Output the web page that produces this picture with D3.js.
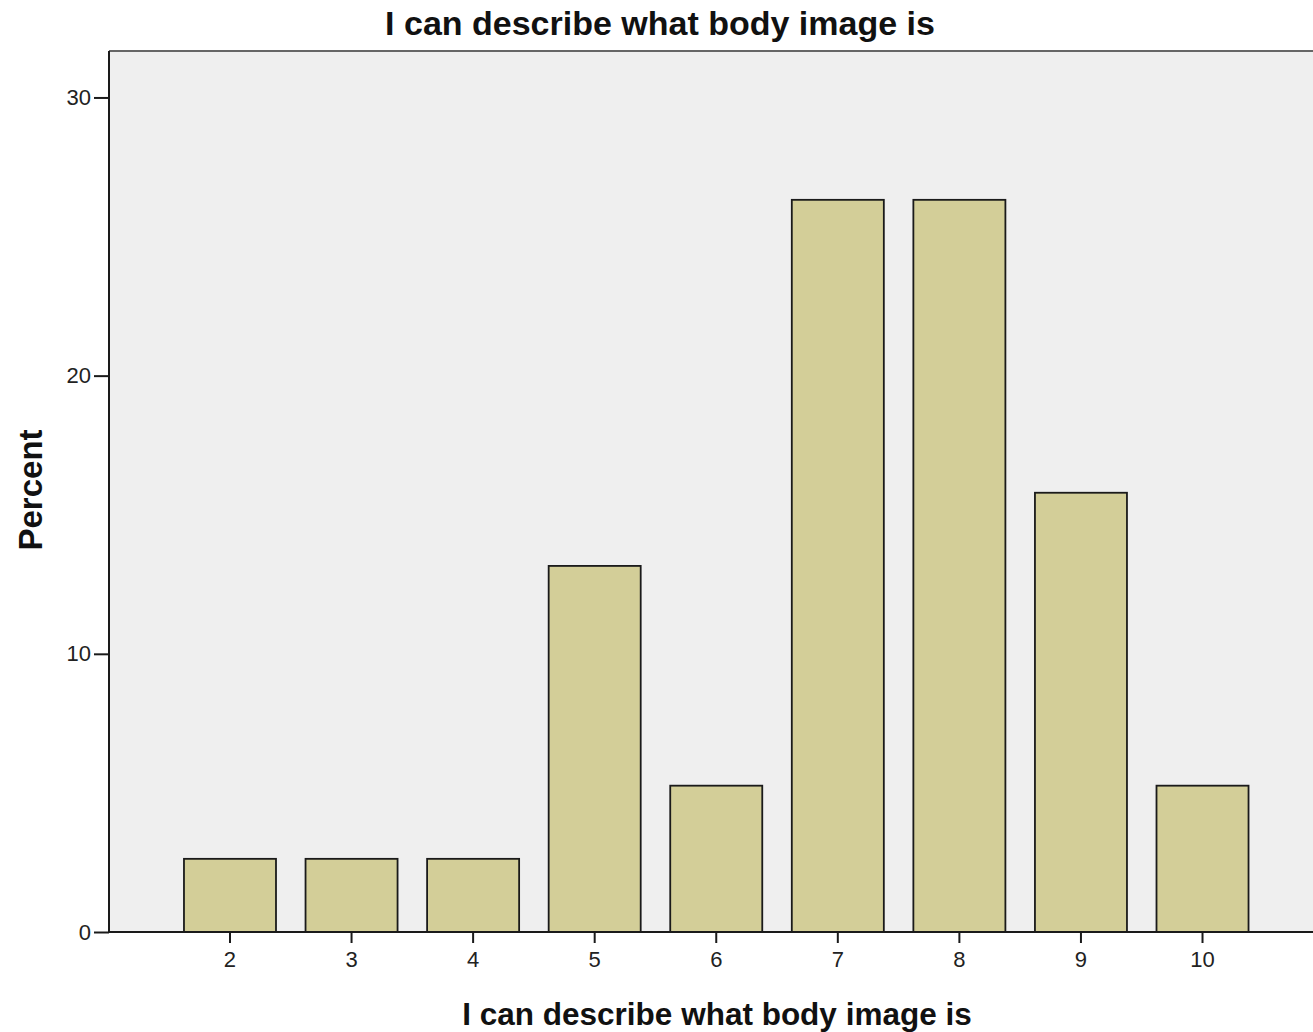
<!DOCTYPE html>
<html><head><meta charset="utf-8">
<script src="https://cdn.jsdelivr.net/npm/d3@7"></script>
<style>body{margin:0;background:#fff;}svg{display:block;}</style>
</head><body>
<script>
const categories = ["2","3","4","5","6","7","8","9","10"];
const percents = [2.63, 2.63, 2.63, 13.16, 5.26, 26.32, 26.32, 15.79, 5.26];
const yTicks = [0, 10, 20, 30];
const title = "I can describe what body image is";
const xTitle = "I can describe what body image is";
const yTitle = "Percent";

const W = 1313, H = 1032;
const plot = {left: 109, top: 51, right: 1313, bottom: 932};
const FONT = "Liberation Sans, Arial, sans-serif";
const svg = d3.select("body").append("svg").attr("width", W).attr("height", H);

const y = d3.scaleLinear().domain([0, 31.67]).range([plot.bottom, plot.top]);
const x = d3.scaleBand().domain(categories).range([169.2, 1263.3]).paddingInner(0.243).paddingOuter(0.1215);

svg.append("rect").attr("x", plot.left).attr("y", plot.top)
  .attr("width", plot.right - plot.left).attr("height", plot.bottom - plot.top)
  .attr("fill", "#efefef");
svg.append("line").attr("x1", plot.left).attr("x2", plot.right).attr("y1", plot.top).attr("y2", plot.top)
  .attr("stroke", "#666").attr("stroke-width", 2);

svg.append("g").selectAll("rect").data(percents).join("rect")
  .attr("x", (d, i) => x(categories[i]))
  .attr("y", d => y(d))
  .attr("width", x.bandwidth())
  .attr("height", d => y(0) - y(d))
  .attr("fill", "#d3ce98").attr("stroke", "#1a1a1a").attr("stroke-width", 1.8);

const yAxis = svg.append("g").attr("transform", `translate(${plot.left},0)`)
  .call(d3.axisLeft(y).tickValues(yTicks).tickSize(15).tickPadding(3).tickFormat(d3.format("d")));
yAxis.select(".domain").attr("stroke", "#1a1a1a").attr("stroke-width", 2).attr("d", `M0,${plot.bottom}V${plot.top}`);
yAxis.selectAll(".tick line").attr("stroke", "#1a1a1a").attr("stroke-width", 2);
yAxis.selectAll("text").attr("font-family", FONT).attr("font-size", 22).attr("fill", "#222");

const xAxis = svg.append("g").attr("transform", `translate(0,${plot.bottom})`)
  .call(d3.axisBottom(x).tickSize(11).tickPadding(8));
xAxis.select(".domain").attr("stroke", "#1a1a1a").attr("stroke-width", 2).attr("d", `M${plot.left},0H${plot.right}`);
xAxis.selectAll(".tick line").attr("stroke", "#1a1a1a").attr("stroke-width", 2);
xAxis.selectAll("text").attr("font-family", FONT).attr("font-size", 22).attr("fill", "#222");

svg.append("text").attr("x", 660).attr("y", 35).attr("text-anchor", "middle")
  .attr("font-family", FONT).attr("font-weight", "bold").attr("font-size", 34)
  .attr("fill", "#111").text(title);
svg.append("text").attr("x", 717).attr("y", 1025).attr("text-anchor", "middle")
  .attr("font-family", FONT).attr("font-weight", "bold").attr("font-size", 31.5)
  .attr("fill", "#111").text(xTitle);
svg.append("text").attr("transform", "translate(42,490) rotate(-90)").attr("text-anchor", "middle")
  .attr("font-family", FONT).attr("font-weight", "bold").attr("font-size", 33)
  .attr("fill", "#111").text(yTitle);
</script>
</body></html>
